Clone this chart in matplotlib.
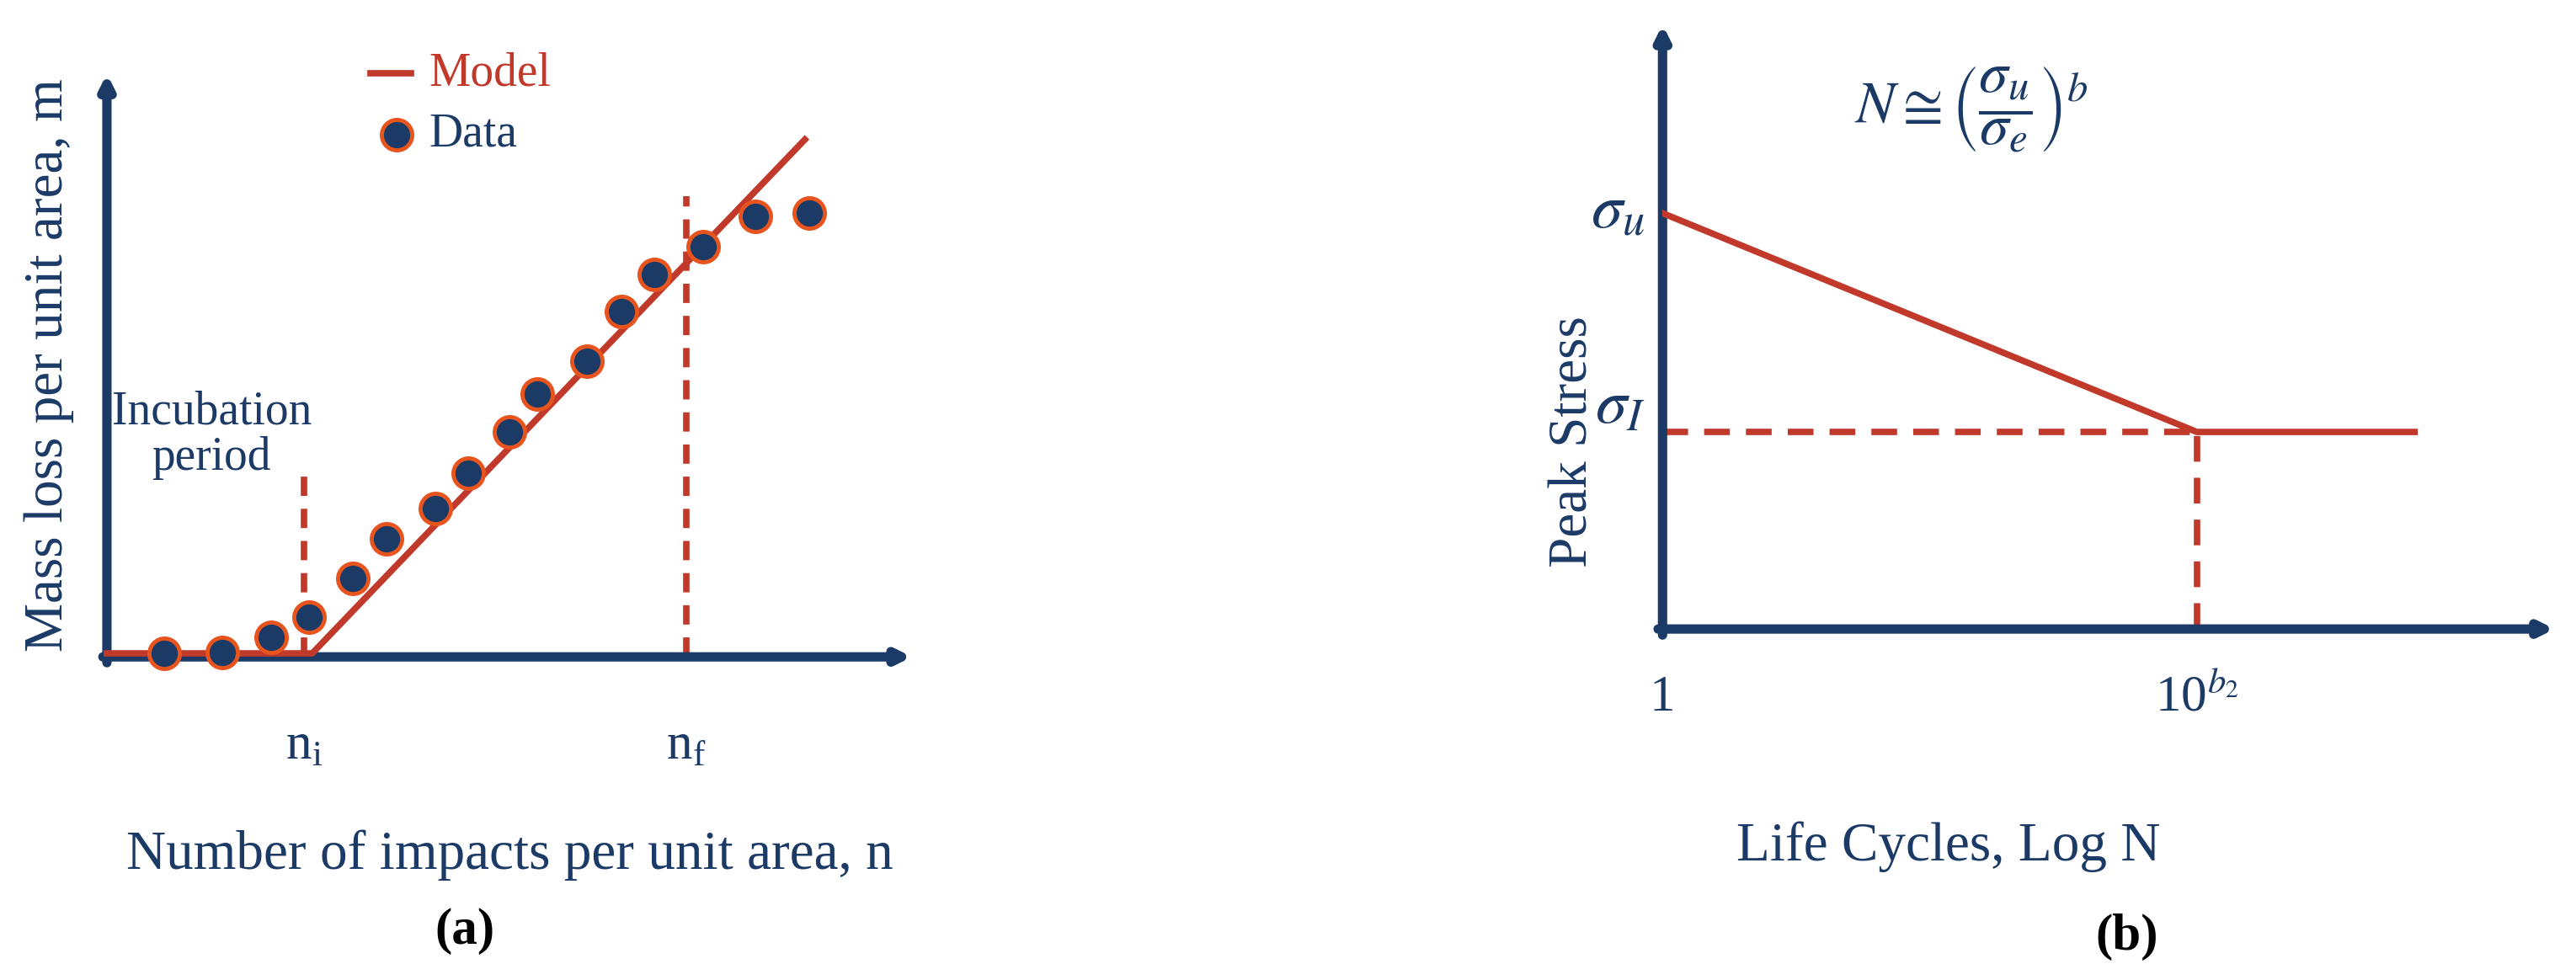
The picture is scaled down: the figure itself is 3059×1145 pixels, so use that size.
import matplotlib.pyplot as plt

NAVY = "#1b3a66"
RED = "#c0392b"
plt.rcParams["font.family"] = ["Liberation Serif", "DejaVu Serif"]
plt.rcParams["mathtext.fontset"] = "stix"

# panel (a) data
data_n = [0.71, 1.43, 2.04, 2.51, 3.06, 3.47, 4.08, 4.49, 5.0, 5.35, 5.96, 6.39, 6.80, 7.41, 8.06, 8.73]
data_m = [0.06, 0.08, 0.34, 0.68, 1.35, 2.03, 2.54, 3.15, 3.86, 4.51, 5.07, 5.92, 6.56, 7.04, 7.55, 7.61]
model_n = [0.0, 2.55, 8.67]
model_m = [0.06, 0.06, 8.87]
n_i, n_i_top = 2.45, 3.1
n_f, n_f_top = 7.2, 7.9

# panel (b) data
curve_x = [0.0, 5.99, 8.43]
curve_y = [6.88, 3.26, 3.26]
sigma_u, sigma_I, knee = 6.88, 3.26, 5.99

fig = plt.figure(figsize=(30.59, 11.45), dpi=100)
axa = fig.add_axes([0.0415, 0.3186, 0.3125, 0.605])
axb = fig.add_axes([0.6454, 0.3475, 0.3463, 0.627])


def draw_axes(ax):
    ax.set_xlim(0, 10)
    ax.set_ylim(0, 10)
    ax.axis("off")
    kw = dict(arrowstyle="-|>,head_length=0.9,head_width=0.45", color=NAVY, lw=8,
              shrinkA=0, shrinkB=0)
    ax.annotate("", xy=(10, 0), xytext=(-0.05, 0), arrowprops=kw, annotation_clip=False)
    ax.annotate("", xy=(0, 10), xytext=(0, -0.1), arrowprops=kw, annotation_clip=False)


draw_axes(axa)
axa.plot(model_n, model_m, color=RED, lw=5.5, zorder=3, clip_on=False)
axa.plot(data_n, data_m, "o", ms=26, mfc=NAVY, mec="#e8541e", mew=3.5, zorder=4, clip_on=False)
axa.plot([n_i, n_i], [0, n_i_top], color=RED, lw=5.5, ls=(0, (3, 2)), zorder=2)
axa.plot([n_f, n_f], [0, n_f_top], color=RED, lw=5.5, ls=(0, (3, 2)), zorder=2)
axa.text(n_i, -1.55, r"n$_\mathregular{i}$", color=NAVY, fontsize=44, ha="center", va="center")
axa.text(n_f, -1.55, r"n$_\mathregular{f}$", color=NAVY, fontsize=44, ha="center", va="center")
axa.text(1.3, 3.8, "Incubation\nperiod", color=NAVY, fontsize=40, ha="center", va="center",
         linespacing=1.05)
axa.text(5.0, -3.4, "Number of impacts per unit area, n", color=NAVY, fontsize=47,
         ha="center", va="center")
axa.text(-0.72, 5.0, "Mass loss per unit area, m", color=NAVY, fontsize=47, rotation=90,
         ha="center", va="center")
# legend
axa.plot([3.27, 3.78], [10.0, 10.0], color=RED, lw=5.5, clip_on=False)
axa.text(4.0, 10.0, "Model", color=RED, fontsize=40, va="center")
axa.plot([3.6], [8.96], "o", ms=26, mfc=NAVY, mec="#e8541e", mew=3.5, clip_on=False)
axa.text(4.0, 8.96, "Data", color=NAVY, fontsize=40, va="center")
axa.text(4.45, -4.7, "(a)", fontsize=44, fontweight="bold", ha="center", va="center")

draw_axes(axb)
axb.plot(curve_x, curve_y, color=RED, lw=5.5, zorder=3)
axb.plot([0, knee], [sigma_I, sigma_I], color=RED, lw=5.5, ls=(0, (4, 2.5)), zorder=2)
axb.plot([knee, knee], [0, sigma_I], color=RED, lw=5.5, ls=(0, (4, 2.5)), zorder=2)
axb.text(-0.2, sigma_u, r"$\sigma_u$", color=NAVY, fontsize=54, ha="right", va="center")
axb.text(-0.2, sigma_I + 0.4, r"$\sigma_I$", color=NAVY, fontsize=54, ha="right", va="center")
axb.text(0, -1.15, "1", color=NAVY, fontsize=44, ha="center", va="center")
axb.text(knee, -1.15, r"10$^{b_2}$", color=NAVY, fontsize=44, ha="center", va="center")
axb.text(3.2, -3.6, "Life Cycles, Log N", color=NAVY, fontsize=47, ha="center", va="center")
axb.text(-1.0, 3.1, "Peak Stress", color=NAVY, fontsize=47, rotation=90,
         ha="center", va="center")
axb.text(2.15, 8.6, r"$N \cong \left(\dfrac{\sigma_u}{\sigma_e}\right)^b$", color=NAVY,
         fontsize=50, ha="left", va="center")
axb.text(5.2, -5.1, "(b)", fontsize=44, fontweight="bold", ha="center", va="center")

fig.savefig("out.png", dpi=100, facecolor="white")
